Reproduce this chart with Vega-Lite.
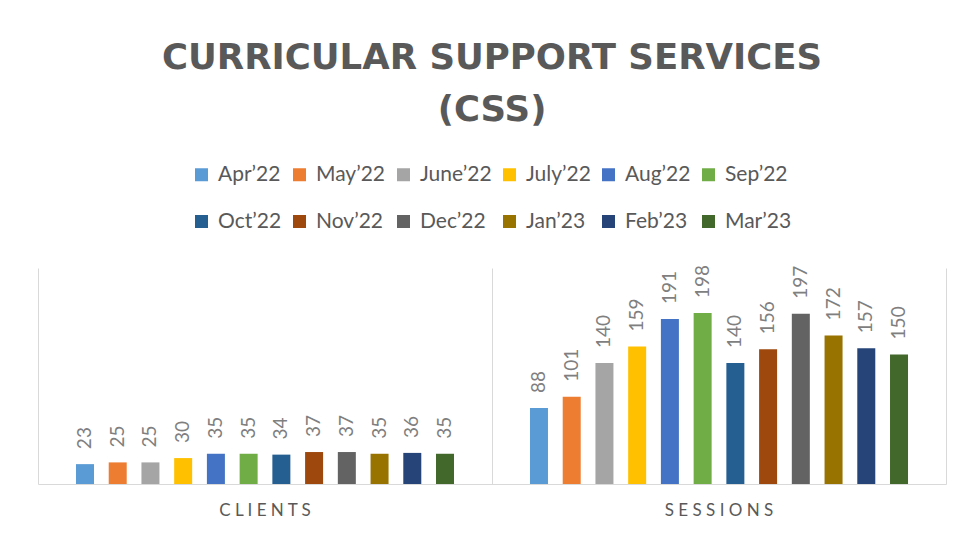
{
  "$schema": "https://vega.github.io/schema/vega-lite/v6.json",
  "width": 908,
  "height": 216,
  "autosize": {"type": "none"},
  "padding": {"left": 38, "top": 268, "right": 15, "bottom": 54},
  "background": "white",
  "title": {
    "text": ["CURRICULAR SUPPORT SERVICES", "(CSS)"],
    "anchor": "middle",
    "font": "DejaVu Sans",
    "fontSize": 35.5,
    "fontWeight": "bold",
    "color": "#595959",
    "lineHeight": 52,
    "offset": 36
  },
  "data": {
    "values": [
      {"metric": "CLIENTS", "month": "Apr’22", "value": 23},
      {"metric": "CLIENTS", "month": "May’22", "value": 25},
      {"metric": "CLIENTS", "month": "June’22", "value": 25},
      {"metric": "CLIENTS", "month": "July’22", "value": 30},
      {"metric": "CLIENTS", "month": "Aug’22", "value": 35},
      {"metric": "CLIENTS", "month": "Sep’22", "value": 35},
      {"metric": "CLIENTS", "month": "Oct’22", "value": 34},
      {"metric": "CLIENTS", "month": "Nov’22", "value": 37},
      {"metric": "CLIENTS", "month": "Dec’22", "value": 37},
      {"metric": "CLIENTS", "month": "Jan’23", "value": 35},
      {"metric": "CLIENTS", "month": "Feb’23", "value": 36},
      {"metric": "CLIENTS", "month": "Mar’23", "value": 35},
      {"metric": "SESSIONS", "month": "Apr’22", "value": 88},
      {"metric": "SESSIONS", "month": "May’22", "value": 101},
      {"metric": "SESSIONS", "month": "June’22", "value": 140},
      {"metric": "SESSIONS", "month": "July’22", "value": 159},
      {"metric": "SESSIONS", "month": "Aug’22", "value": 191},
      {"metric": "SESSIONS", "month": "Sep’22", "value": 198},
      {"metric": "SESSIONS", "month": "Oct’22", "value": 140},
      {"metric": "SESSIONS", "month": "Nov’22", "value": 156},
      {"metric": "SESSIONS", "month": "Dec’22", "value": 197},
      {"metric": "SESSIONS", "month": "Jan’23", "value": 172},
      {"metric": "SESSIONS", "month": "Feb’23", "value": 157},
      {"metric": "SESSIONS", "month": "Mar’23", "value": 150}
    ]
  },
  "encoding": {
    "x": {
      "field": "metric",
      "type": "nominal",
      "sort": ["CLIENTS", "SESSIONS"],
      "scale": {"paddingInner": 0, "paddingOuter": 0},
      "axis": {
        "title": null,
        "labelAngle": 0,
        "labelFont": "Lato",
        "labelFontSize": 17,
        "labelColor": "#595959",
        "labelPadding": 18,
        "labelExpr": "join(split(datum.label, ''), ' ')",
        "ticks": false,
        "domainColor": "#d9d9d9",
        "grid": true,
        "gridColor": "#d9d9d9",
        "bandPosition": 0
      }
    },
    "xOffset": {
      "field": "month",
      "type": "nominal",
      "sort": ["Apr’22", "May’22", "June’22", "July’22", "Aug’22", "Sep’22", "Oct’22", "Nov’22", "Dec’22", "Jan’23", "Feb’23", "Mar’23"],
      "scale": {"range": [5.25, 448.75], "paddingInner": 0.45, "paddingOuter": 1}
    },
    "y": {
      "field": "value",
      "type": "quantitative",
      "scale": {"domain": [0, 250]},
      "axis": {"orient": "right", "labels": false, "ticks": false, "grid": false, "title": null, "domainColor": "#d9d9d9"}
    }
  },
  "layer": [
    {
      "mark": {"type": "bar"},
      "encoding": {
        "color": {
          "field": "month",
          "type": "nominal",
          "sort": ["Apr’22", "May’22", "June’22", "July’22", "Aug’22", "Sep’22", "Oct’22", "Nov’22", "Dec’22", "Jan’23", "Feb’23", "Mar’23"],
          "scale": {
            "domain": ["Apr’22", "May’22", "June’22", "July’22", "Aug’22", "Sep’22", "Oct’22", "Nov’22", "Dec’22", "Jan’23", "Feb’23", "Mar’23"],
            "range": ["#5B9BD5", "#ED7D31", "#A5A5A5", "#FFC000", "#4472C4", "#70AD47", "#255E91", "#9E480E", "#636363", "#997300", "#264478", "#43682B"]
          },
          "legend": {
            "title": null,
            "orient": "none",
            "legendX": 153,
            "legendY": -104,
            "direction": "horizontal",
            "columns": 6,
            "symbolType": "square",
            "symbolSize": 169,
            "symbolStrokeWidth": 0,
            "labelFont": "Lato",
            "labelFontSize": 21,
            "labelColor": "#595959",
            "labelOffset": 6,
            "columnPadding": 7,
            "rowPadding": 25,
            "labelLimit": 200
          }
        }
      }
    },
    {
      "mark": {"type": "text", "angle": 270, "align": "left", "baseline": "middle", "dx": 15, "font": "Lato", "fontSize": 19, "color": "#7f7f7f"},
      "encoding": {
        "text": {"field": "value", "type": "quantitative"}
      }
    }
  ],
  "config": {
    "view": {"stroke": null}
  }
}
